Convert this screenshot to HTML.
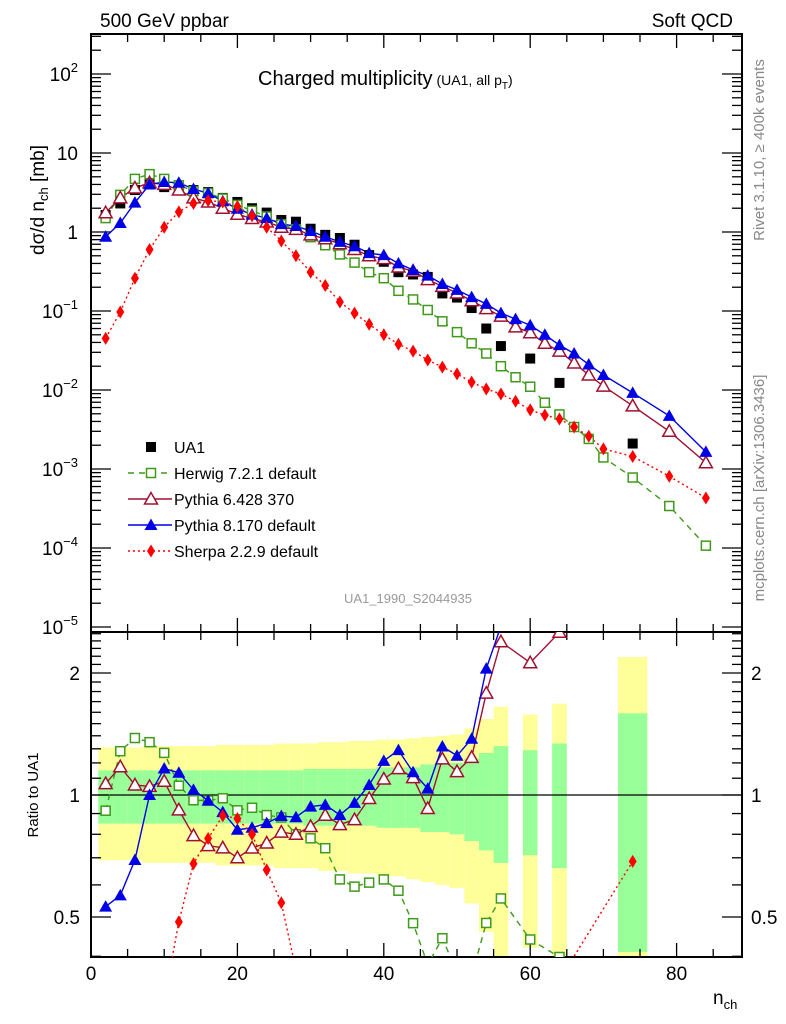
<!DOCTYPE html>
<html><head><meta charset="utf-8">
<style>
html,body{margin:0;padding:0;background:#fff;width:786px;height:1024px;overflow:hidden;}
svg{display:block;font-family:"Liberation Sans",sans-serif;}
</style></head>
<body>
<svg id="chart" width="786" height="1024" viewBox="0 0 786 1024" xmlns="http://www.w3.org/2000/svg">
<g id="bands"></g>
<g id="grid"></g>
<g id="series"></g>
<g id="labels">
<text x="100" y="27" font-size="19">500 GeV ppbar</text>
<text x="733" y="27" font-size="19" text-anchor="end">Soft QCD</text>
<text x="258" y="85" font-size="20">Charged multiplicity<tspan font-size="14" dx="4">(UA1, all p</tspan><tspan font-size="10" dy="4">T</tspan><tspan font-size="14" dy="-4">)</tspan></text>
<text transform="translate(44,200) rotate(-90)" font-size="19" text-anchor="middle">dσ/d n<tspan font-size="13" dy="4">ch</tspan><tspan dy="-4"> [mb]</tspan></text>
<text transform="translate(764,150) rotate(-90)" font-size="15" fill="#888" text-anchor="middle">Rivet 3.1.10, ≥ 400k events</text>
<text transform="translate(764,488) rotate(-90)" font-size="15" fill="#888" text-anchor="middle">mcplots.cern.ch [arXiv:1306.3436]</text>
<text x="408" y="603" font-size="13" fill="#999" text-anchor="middle">UA1_1990_S2044935</text>
<text transform="translate(38,795) rotate(-90)" font-size="15" text-anchor="middle">Ratio to UA1</text>
<text x="713" y="1004" font-size="19">n<tspan font-size="13" dy="5">ch</tspan></text>
</g>
<g id="legend"></g>
</svg>
<script>
const ua1X = [2,4,6,8,10,12,14,16,18,20,22,24,26,28,30,32,34,36,38,40,42,44,46,48,50,52,54,56,60,64,74];
const ua1Y = [1.64,2.3,3.4,4.0,3.7,3.7,3.4,3.2,2.7,2.4,2.0,1.76,1.42,1.35,1.1,0.92,0.84,0.69,0.51,0.42,0.31,0.29,0.27,0.167,0.148,0.109,0.06,0.036,0.025,0.0123,0.0021];
const ua1Half = [1,1,1,1,1,1,1,1,1,1,1,1,1,1,1,1,1,1,1,1,1,1,1,1,1,1,1,1,1,1,2];
const statErr = [0.15,0.15,0.15,0.15,0.15,0.15,0.15,0.15,0.15,0.15,0.15,0.15,0.15,0.15,0.16,0.16,0.16,0.16,0.16,0.17,0.17,0.17,0.19,0.19,0.2,0.23,0.27,0.32,0.29,0.34,0.59];
const totErr = [0.31,0.31,0.31,0.32,0.32,0.32,0.32,0.32,0.33,0.33,0.33,0.33,0.34,0.34,0.34,0.35,0.35,0.36,0.36,0.37,0.37,0.38,0.39,0.4,0.41,0.46,0.54,0.65,0.58,0.68,1.19];
const mcX = [2,4,6,8,10,12,14,16,18,20,22,24,26,28,30,32,34,36,38,40,42,44,46,48,50,52,54,56,58,60,62,64,66,68,70,74,79,84];
const herwigY = [1.5,2.95,4.7,5.4,4.7,3.9,3.3,3.1,2.65,2.2,1.86,1.57,1.25,1.08,0.86,0.68,0.52,0.41,0.31,0.26,0.18,0.14,0.103,0.074,0.054,0.039,0.029,0.020,0.0145,0.011,0.0069,0.0049,0.0034,0.0024,0.0014,0.00078,0.00034,0.000107];
const py6Y = [1.75,2.7,3.6,4.2,4.0,3.4,2.7,2.4,2.0,1.68,1.48,1.34,1.15,1.08,0.92,0.82,0.71,0.6,0.5,0.46,0.36,0.32,0.25,0.205,0.169,0.135,0.107,0.086,0.063,0.053,0.039,0.031,0.022,0.0155,0.0112,0.0063,0.003,0.0012];
const py8Y = [0.87,1.3,2.35,4.0,4.3,4.2,3.5,3.1,2.45,1.97,1.66,1.5,1.26,1.19,1.03,0.87,0.75,0.66,0.54,0.51,0.4,0.33,0.28,0.22,0.185,0.15,0.123,0.094,0.079,0.066,0.05,0.037,0.029,0.021,0.0155,0.0092,0.0047,0.00165];
const sherpaY = [0.045,0.097,0.26,0.6,1.15,1.8,2.3,2.5,2.4,2.1,1.6,1.15,0.77,0.5,0.31,0.21,0.13,0.094,0.068,0.05,0.038,0.031,0.024,0.0195,0.016,0.0126,0.0103,0.0089,0.0072,0.0056,0.0048,0.0043,0.0034,0.0026,0.0018,0.00144,0.00081,0.00043];
const xTicks = [0,20,40,60,80];
const ratioTicks = [0.5,1,2];

const NS="http://www.w3.org/2000/svg";
const L=91,R=742,T1=34,B1=632,T2=632,B2=957;
const sx=n=>L+n*7.32;
const sy=v=>232-79*Math.log10(v);
const ry=r=>795-122*Math.log2(r);
function mk(tag,attrs,parent){const e=document.createElementNS(NS,tag);for(const k in attrs)e.setAttribute(k,attrs[k]);parent.appendChild(e);return e;}
const gridG=document.getElementById('grid'),bandsG=document.getElementById('bands'),ser=document.getElementById('series'),leg=document.getElementById('legend');

const defs=mk('defs',{},document.getElementById('chart'));
const c1=mk('clipPath',{id:'c1'},defs);mk('rect',{x:L,y:T1,width:R-L,height:B1-T1},c1);
const c2=mk('clipPath',{id:'c2'},defs);mk('rect',{x:L,y:T2,width:R-L,height:B2-T2},c2);

ua1X.forEach((x,i)=>{
  const x0=sx(x-ua1Half[i]),x1=sx(x+ua1Half[i]);
  const lo=Math.max(1-totErr[i],0.3);
  const y=mk('rect',{x:x0,y:ry(1+totErr[i]),width:x1-x0,height:ry(lo)-ry(1+totErr[i]),fill:'#ffff99','clip-path':'url(#c2)'},bandsG);
  
  
  const g=mk('rect',{x:x0,y:ry(1+statErr[i]),width:x1-x0,height:ry(Math.max(1-statErr[i],0.3))-ry(1+statErr[i]),fill:'#99ff99','clip-path':'url(#c2)'},bandsG);
  
  
});

[[T1,B1],[T2,B2]].forEach(([t,b])=>{
  mk('rect',{x:L,y:t,width:R-L,height:b-t,fill:'none',stroke:'#000','stroke-width':2},gridG);
  for(let n=0;n<=85;n+=5){const maj=n%20===0;const len=maj?14:8;
    mk('line',{x1:sx(n),x2:sx(n),y1:t,y2:t+len,stroke:'#000','stroke-width':1.3},gridG);
    mk('line',{x1:sx(n),x2:sx(n),y1:b,y2:b-len,stroke:'#000','stroke-width':1.3},gridG);}
});
mk('line',{x1:L,x2:R,y1:ry(1),y2:ry(1),stroke:'#000','stroke-width':1.3},gridG);
for(let e=-5;e<=2;e++){for(let m=1;m<10;m++){const v=m*Math.pow(10,e);const y=sy(v);if(y<T1||y>B1)continue;const len=m===1?20:10;
  mk('line',{x1:L,x2:L+len,y1:y,y2:y,stroke:'#000','stroke-width':1.3},gridG);
  mk('line',{x1:R,x2:R-len,y1:y,y2:y,stroke:'#000','stroke-width':1.3},gridG);}
  const y=sy(Math.pow(10,e));
  const t=mk('text',{x:78,y:y+7,'font-size':19,'text-anchor':'end'},gridG);
  
  
  if(e===0)t.textContent='1';else if(e===1)t.textContent='10';else{t.textContent='10';const s=mk('tspan',{'font-size':13,dy:-9},t);s.textContent=(e<0?'−':'')+Math.abs(e);}
}
for(let k=4;k<=25;k++){const v=k/10;const y=ry(v);if(y<T2||y>B2)continue;const maj=(k===5||k===10||k===20);const len=maj?20:10;
  mk('line',{x1:L,x2:L+len,y1:y,y2:y,stroke:'#000','stroke-width':1.3},gridG);
  mk('line',{x1:R,x2:R-len,y1:y,y2:y,stroke:'#000','stroke-width':1.3},gridG);}
ratioTicks.forEach(v=>{
  const a=mk('text',{x:80,y:ry(v)+7,'font-size':19,'text-anchor':'end'},gridG);a.textContent=String(v);
  
  
  const b=mk('text',{x:751,y:ry(v)+7,'font-size':19},gridG);b.textContent=String(v);
  
  
});
xTicks.forEach(n=>{const t=mk('text',{x:sx(n),y:980,'font-size':19,'text-anchor':'middle'},gridG);t.textContent=String(n);
  
  });

function marker(type,x,y,color,p){
  let e;
  if(type==='sq')e=mk('rect',{x:x-5,y:y-5,width:10,height:10,fill:'#000'},p);
  else if(type==='osq')e=mk('rect',{x:x-4.5,y:y-4.5,width:9,height:9,fill:'#fff',stroke:color,'stroke-width':1.5},p);
  else if(type==='otri')e=mk('polygon',{points:`${x},${y-6.5} ${x-6.5},${y+5} ${x+6.5},${y+5}`,fill:'#fff',stroke:color,'stroke-width':1.5},p);
  else if(type==='tri')e=mk('polygon',{points:`${x},${y-6.5} ${x-6.5},${y+5} ${x+6.5},${y+5}`,fill:color},p);
  else e=mk('polygon',{points:`${x},${y-6.5} ${x-4},${y} ${x},${y+6.5} ${x+4},${y}`,fill:color},p);
  return e;
}
const models=[
  {name:'herwig',y:herwigY,color:'#3f9a1a',type:'osq',dash:'6,5',label:'Herwig 7.2.1 default'},
  {name:'pythia6',y:py6Y,color:'#a01030',type:'otri',dash:null,label:'Pythia 6.428 370'},
  {name:'pythia8',y:py8Y,color:'#0000e6',type:'tri',dash:null,label:'Pythia 8.170 default'},
  {name:'sherpa',y:sherpaY,color:'#ff0000',type:'dia',dash:'2,3',label:'Sherpa 2.2.9 default'}];

const topG=mk('g',{'clip-path':'url(#c1)'},ser);
models.forEach(m=>{
  const pts=mcX.map((x,i)=>sx(x)+','+sy(m.y[i])).join(' ');
  const pl=mk('polyline',{points:pts,fill:'none',stroke:m.color,'stroke-width':1.4},topG);
  if(m.dash)pl.setAttribute('stroke-dasharray',m.dash);
  
  
});
ua1X.forEach((x,i)=>{const e=marker('sq',sx(x),sy(ua1Y[i]),'#000',topG);
  
  });
models.forEach(m=>{mcX.forEach((x,i)=>{const e=marker(m.type,sx(x),sy(m.y[i]),m.color,topG);
  
  });});

const botG=mk('g',{'clip-path':'url(#c2)'},ser);
models.forEach(m=>{
  const rs=ua1X.map((x,i)=>{const j=mcX.indexOf(x);return [sx(x),ry(m.y[j]/ua1Y[i])];});
  const pl=mk('polyline',{points:rs.map(p=>p.join(',')).join(' '),fill:'none',stroke:m.color,'stroke-width':1.4},botG);
  if(m.dash)pl.setAttribute('stroke-dasharray',m.dash);
  
  
  rs.forEach(p=>{const e=marker(m.type,p[0],p[1],m.color,botG);
    
    });
});

const rows=[{label:'UA1',type:'sq',color:'#000',dash:null,line:false}].concat(models.map(m=>({label:m.label,type:m.type,color:m.color,dash:m.dash,line:true})));
rows.forEach((r,k)=>{
  const y=447+k*26;
  const g=mk('g',{},leg);
  
  
  if(r.line){const l=mk('line',{x1:128,x2:172,y1:y,y2:y,stroke:r.color,'stroke-width':1.4},g);if(r.dash)l.setAttribute('stroke-dasharray',r.dash);}
  marker(r.type,151,y,r.color,g);
  const t=mk('text',{x:174,y:y+6,'font-size':16},g);t.textContent=r.label;
});
</script>
</body></html>
